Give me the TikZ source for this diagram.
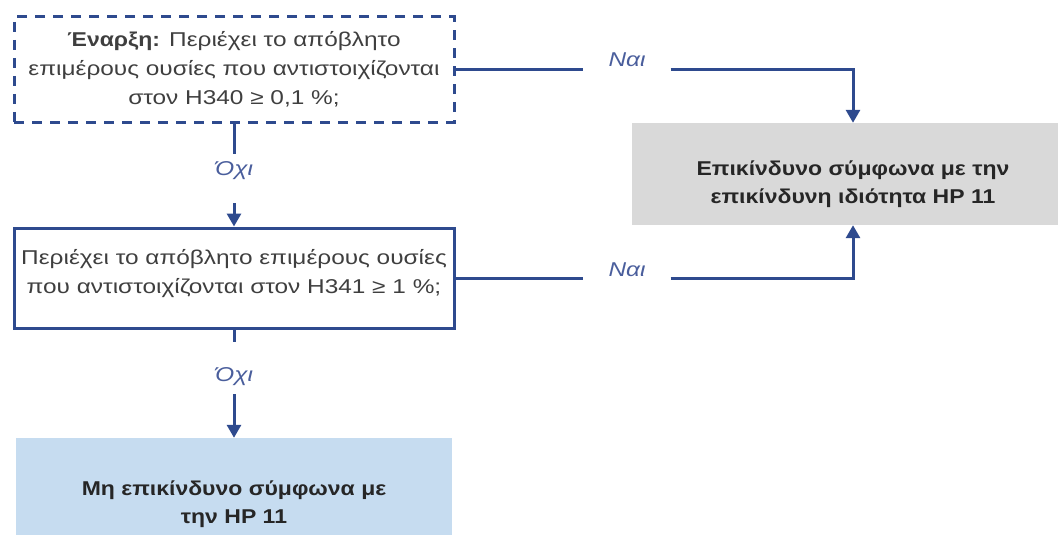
\documentclass[tikz,border=0pt]{standalone}
\usepackage{fontspec}
\setmainfont{Liberation Sans}[FakeStretch=1.22, BoldFeatures={FakeStretch=1.15}]
\usetikzlibrary{arrows.meta}
\definecolor{flowblue}{HTML}{2E4A8E}
\definecolor{answerblue}{HTML}{4A5E9C}
\definecolor{boxtext}{HTML}{3F3F3F}
\definecolor{hazgrey}{HTML}{D9D9D9}
\definecolor{safeblue}{HTML}{C6DCF0}
\tikzset{>={Triangle[width=14pt,length=13pt]},
  question/.style={draw=flowblue, line width=3pt, text=boxtext, align=center,
    minimum width=440pt, minimum height=105pt, font=\fontsize{20}{29}\selectfont},
  verdict/.style={text=black!85, align=center, font=\fontsize{20}{28}\selectfont\bfseries},
  answer/.style={text=answerblue, font=\fontsize{20}{23}\selectfont\itshape,
    inner xsep=25pt, inner ysep=8pt},
  link/.style={draw=flowblue, line width=3pt}}

\begin{document}
\begin{tikzpicture}[x=1pt,y=-1pt]
\useasboundingbox (0,0) rectangle (1058,535);
\clip (0,0) rectangle (1058,535);
% boxes
\node[question, dashed, dash pattern=on 10pt off 8pt] (start) at (234,69.5)
  {\textbf{Έναρξη:} Περιέχει το απόβλητο\\ επιμέρους ουσίες που αντιστοιχίζονται\\ στον H340 ≥ 0,1 \%;};
\node[question, minimum height=100pt, text depth=13pt] (q2) at (234,278)
  {Περιέχει το απόβλητο επιμέρους ουσίες\\ που αντιστοιχίζονται στον H341 ≥ 1 \%;};
\node[verdict, fill=hazgrey, minimum width=442pt, minimum height=102pt, text height=64pt] (haz) at (853,174)
  {Επικίνδυνο σύμφωνα με την\\ επικίνδυνη ιδιότητα HP 11};
\node[verdict, fill=safeblue, minimum width=436pt, minimum height=132pt] (safe) at (234,504)
  {Μη επικίνδυνο σύμφωνα με\\ την HP 11};
% answers
\node[answer] (yes1) at (627,60) {Ναι};
\node[answer] (yes2) at (627,270) {Ναι};
\node[answer] (no1) at (234,171) {Όχι};
\node[answer] (no2) at (234,377) {Όχι};
% connectors
\draw[link] (start.east) -- (start.east -| yes1.west);
\draw[link,->] (start.east -| yes1.east) -| (haz.north);
\draw[link] (q2.east) -- (q2.east -| yes2.west);
\draw[link,->] (q2.east -| yes2.east) -| (haz.south);
\draw[link] (start) -- (no1);
\draw[link,->,shorten <=15pt] (no1) -- (q2);
\draw[link,shorten >=18pt] (q2) -- (no2);
\draw[link,->] (no2) -- (safe);
\end{tikzpicture}
\end{document}
